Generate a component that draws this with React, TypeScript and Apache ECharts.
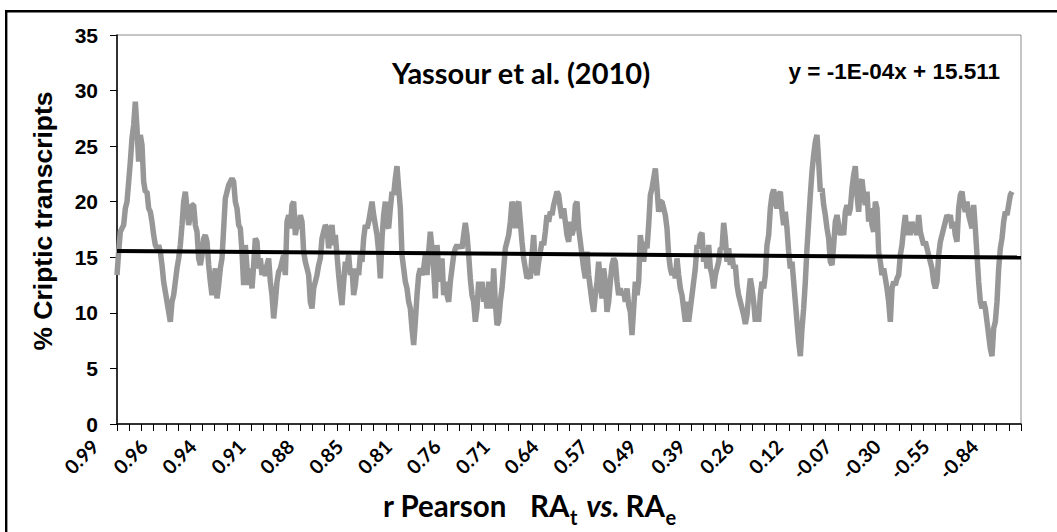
import React, { useEffect, useRef } from 'react';
import * as echarts from 'echarts';

// Tick labels of the category axis (r Pearson RAt vs RAe)
const tickLabels = ['0.99', '0.96', '0.94', '0.91', '0.88', '0.85', '0.81', '0.76', '0.71', '0.64', '0.57', '0.49', '0.39', '0.26', '0.12', '-0.07', '-0.30', '-0.55', '-0.84'];

// % cryptic transcripts (moving average), left to right
const seg1 = [
  13.4, 15.5, 17.3, 17.6, 17.9, 19.4, 20.0, 21.8, 23.6,
  25.7, 26.9, 29.0, 26.6, 23.6, 26.0, 25.1, 21.8, 20.9, 20.9,
  19.4, 19.1, 18.2, 17.0, 16.1, 15.8, 16.1, 15.5, 14.3, 12.8,
  11.9, 11.0, 10.1, 9.2, 11.0, 11.6, 12.8, 14.0, 14.9, 16.1,
  17.9, 20.0, 20.9, 19.4, 17.9, 18.8, 19.7, 19.7, 17.9, 17.3,
  14.9, 14.3, 15.2, 16.7, 17.0, 16.4, 14.3, 12.8, 11.6, 12.8,
  14.0, 11.3, 12.5, 14.0, 14.9, 17.6, 20.3, 20.9, 21.5, 21.8,
  22.1, 21.8, 20.0, 19.4, 17.9, 17.6, 15.5, 12.5, 16.1, 14.0,
  12.5, 14.0, 12.2, 14.3, 16.7, 16.4, 14.0, 14.9, 13.4, 14.3,
  13.3, 14.3, 14.9, 12.8, 11.6, 9.5, 11.0, 12.8, 13.7, 14.0,
  14.6, 15.2, 13.4, 18.2, 18.8, 17.6, 19.7, 20.0, 17.0, 17.9,
  17.6, 18.8, 18.2, 15.5, 14.6, 14.0, 13.4, 11.0, 10.4, 12.2,
  12.8, 13.4, 14.3, 14.9, 16.7, 17.3, 17.9, 17.6, 15.8, 17.0,
  17.9, 16.1, 17.0, 15.2, 13.4, 11.9, 10.7,
];
const seg2 = [
  12.8, 14.6, 14.0, 15.2, 13.4, 14.0, 11.6, 12.5, 14.0, 13.4,
  15.2, 14.6, 16.7, 17.9, 17.6, 18.2, 19.1, 20.0, 18.8, 17.9,
  17.0, 15.5, 13.1, 16.7, 18.8, 20.0, 17.9, 17.6, 19.4, 20.9,
  20.6, 22.1, 23.2, 21.2, 19.4, 15.2, 14.0, 12.8, 12.2, 11.0,
  10.4, 8.6, 7.1, 9.2, 11.6, 13.4, 14.0, 13.4, 14.0, 15.2,
  13.4, 15.5, 17.3, 15.8, 14.0, 11.3, 16.1, 14.0, 12.8, 14.9,
  11.6, 12.8, 11.6, 11.0, 12.8, 14.0, 15.2, 15.8, 16.1, 15.8,
  16.1, 15.8, 17.0, 18.1, 17.0, 15.2, 13.1, 11.6, 11.0, 9.2,
  10.4, 12.8, 11.6, 12.8, 11.0, 12.2, 10.4, 12.8, 11.6, 10.4,
  14.0, 11.0, 8.9, 9.2, 11.0, 12.2, 14.0, 15.8, 16.4, 17.0,
  18.2, 20.0, 19.4, 17.6, 19.7, 20.0, 18.2, 16.4, 14.9, 14.0,
  13.1, 13.4, 13.1, 15.2, 17.0, 14.0, 13.4, 14.6, 15.5, 16.4,
  16.1, 17.3, 18.8, 18.2, 19.1, 18.8, 19.7, 20.3, 20.9, 20.6,
  19.4, 18.5, 19.4, 18.2, 17.0, 16.4, 18.2,
];
const seg3 = [
  17.0, 17.6, 19.7, 20.0, 17.6, 16.4, 15.2, 14.0, 13.1, 15.5,
  13.4, 12.2, 11.0, 10.1, 11.6, 12.8, 14.6, 12.8, 11.3, 14.0,
  12.8, 10.1, 11.0, 12.8, 14.3, 14.9, 14.6, 12.8, 11.6, 12.2,
  11.6, 11.9, 11.0, 12.2, 10.7, 10.1, 8.0, 10.4, 12.8, 11.6,
  12.8, 17.0, 15.8, 14.6, 16.4, 15.8, 17.9, 20.6, 21.2, 22.1,
  23.0, 21.2, 19.1, 20.0, 20.0, 19.4, 18.8, 17.6, 15.2, 14.0,
  13.4, 14.0, 13.1, 14.9, 13.4, 12.2, 11.6, 10.4, 9.2, 11.0,
  9.2, 10.4, 11.6, 12.8, 14.0, 16.1, 15.8, 17.0, 17.2, 14.6,
  15.8, 14.0, 16.1, 14.0, 13.4, 12.2, 13.4, 14.0, 14.6, 15.8,
  15.8, 18.1, 16.7, 14.6, 15.8, 14.3, 15.2, 14.0, 14.3, 12.5,
  11.6, 11.0, 10.4, 9.8, 9.0, 9.8, 11.6, 13.1, 12.2, 11.0,
  9.2, 10.4, 9.2, 11.6, 12.8, 12.2, 13.4, 16.1, 17.0, 19.4,
  20.6, 21.1, 20.0, 19.4, 20.6, 20.9, 19.1, 17.9, 19.1, 17.6,
  15.5, 14.0, 14.6, 12.8, 11.0, 9.2, 7.4,
];
const seg4 = [
  6.1, 8.6, 10.4, 12.8, 15.8, 18.2, 20.6, 22.7, 24.2, 25.4,
  26.0, 23.6, 20.9, 21.2, 19.7, 18.8, 17.6, 16.7, 14.6, 14.3,
  16.1, 18.2, 18.8, 17.9, 17.0, 17.6, 17.0, 19.1, 19.7, 18.8,
  19.4, 21.2, 22.4, 23.2, 20.6, 19.1, 21.7, 22.0, 20.6, 19.7,
  20.9, 18.2, 19.4, 17.9, 17.3, 20.0, 19.4, 15.5, 14.6, 13.4,
  14.0, 13.1, 12.2, 11.0, 9.2, 12.2, 12.8, 12.5, 13.1, 13.4,
  15.2, 16.1, 17.6, 18.8, 17.0, 18.2, 17.0, 18.2, 17.3, 17.6,
  17.0, 18.8, 17.3, 16.7, 16.1, 16.4, 15.8, 15.2, 14.6, 14.0,
  12.8, 12.2, 12.8, 15.2, 16.4, 17.0, 17.6, 18.2, 18.8, 18.5,
  18.8, 17.6, 18.2, 17.0, 16.4, 19.4, 20.6, 20.9, 19.7, 19.1,
  20.0, 18.8, 18.2, 17.6, 19.7, 17.6, 15.2, 12.8, 11.0, 10.4,
  11.0, 10.4, 9.2, 8.0, 6.8, 6.1, 8.6, 9.2, 11.0, 14.0,
  15.8, 16.7, 18.2, 19.1, 18.8, 19.7, 20.6, 20.9,
];
const crypticPct = [...seg1, ...seg2, ...seg3, ...seg4];

// Linear trend (y = -1E-04x + 15.511): values at the left and right plot edges
const trendEnds = [15.57, 14.97];

const X_MAX = 542.4;       // extent of the x axis in sample steps
const TICK_DIVS = 74;      // number of tick intervals on the x axis
const LABEL_EVERY = 4;     // one label every 4 ticks

export default function App() {
  const ref = useRef<HTMLDivElement>(null);

  useEffect(() => {
    if (!ref.current) return;
    const chart = echarts.init(ref.current, undefined, { renderer: 'svg' });
    const tickStep = X_MAX / TICK_DIVS;
    const labelStep = tickStep * LABEL_EVERY;
    const calibri = 'Lato';
    const arial = 'Liberation Sans';

    const ctx = document.createElement('canvas').getContext('2d')!;
    const measure = (t: string, size: number, italic = false) => {
      ctx.font = `${italic ? 'italic ' : ''}bold ${size}px ${calibri}`;
      return ctx.measureText(t).width;
    };

    const txt = (text: string, x: number, y: number, size: number, extra: any = {}) => ({
      type: 'text', x, y, z: 10,
      style: { text, fontFamily: calibri, fontWeight: 'bold', fontSize: size, fill: '#000', align: 'left', verticalAlign: 'middle', ...extra },
    });

    // x-axis title: "r Pearson  RA(t) vs. RA(e)"
    const MAIN = 29.5, SUB = 20, yMain = 505.5, ySub = 517;
    const titleParts: any[] = [];
    let cx = 383;
    titleParts.push(txt('r Pearson', cx, yMain, MAIN)); cx += measure('r Pearson', MAIN) + 23;
    titleParts.push(txt('RA', cx, yMain, MAIN)); cx += measure('RA', MAIN) + 0.5;
    titleParts.push(txt('t', cx, ySub, SUB)); cx += measure('t', SUB) + 9;
    titleParts.push(txt('vs.', cx, yMain, MAIN, { fontStyle: 'italic' })); cx += measure('vs.', MAIN, true) + 6;
    titleParts.push(txt('RA', cx, yMain, MAIN)); cx += measure('RA', MAIN) + 0.5;
    titleParts.push(txt('e', cx, ySub, SUB));

    const option: any = {
      animation: false,
      backgroundColor: '#ffffff',
      grid: [
        { left: 117, top: 35, width: 904, height: 389, show: true, borderColor: '#8a8a8a', borderWidth: 1, backgroundColor: '#fff' },
        { left: 95, top: 35, width: 904, height: 389, show: false },
      ],
      xAxis: [
        {
          gridIndex: 0, type: 'value', min: 0, max: X_MAX, interval: tickStep,
          axisLine: { show: true, lineStyle: { color: '#000', width: 1.5 } },
          axisTick: { show: true, length: 7, lineStyle: { color: '#000', width: 1 } },
          axisLabel: { show: false },
          splitLine: { show: false },
        },
        {
          gridIndex: 1, type: 'value', min: 0, max: X_MAX, interval: labelStep,
          axisLine: { show: false }, axisTick: { show: false }, splitLine: { show: false },
          axisLabel: {
            show: true, rotate: 45, margin: 19, showMinLabel: true, showMaxLabel: true,
            fontFamily: calibri, fontWeight: 'bold', fontSize: 19.5, color: '#000',
            formatter: (v: number) => {
              const k = v / labelStep;
              const r = Math.round(k);
              return Math.abs(k - r) < 1e-3 && r < tickLabels.length ? tickLabels[r] : '';
            },
          },
        },
      ],
      yAxis: [
        {
          gridIndex: 0, type: 'value', min: 0, max: 35, interval: 5,
          axisLine: { show: true, lineStyle: { color: '#000', width: 1.5 } },
          axisTick: { show: true, length: 7, lineStyle: { color: '#000', width: 1 } },
          axisLabel: { margin: 19, fontFamily: arial, fontWeight: 'bold', fontSize: 21, color: '#000' },
          splitLine: { show: false },
        },
        { gridIndex: 1, type: 'value', min: 0, max: 35, show: false },
      ],
      series: [
        {
          type: 'line', xAxisIndex: 0, yAxisIndex: 0,
          data: crypticPct.map((v, i) => [i, v]),
          showSymbol: false, symbol: 'none',
          lineStyle: { color: '#979797', width: 5.5 },
          z: 2,
        },
        {
          type: 'line', xAxisIndex: 0, yAxisIndex: 0,
          data: [[0, trendEnds[0]], [X_MAX, trendEnds[1]]],
          showSymbol: false, symbol: 'none',
          lineStyle: { color: '#000', width: 4 },
          z: 3,
        },
      ],
      graphic: [
        { type: 'line', shape: { x1: 6.2, y1: 10, x2: 6.2, y2: 532 }, style: { stroke: '#000', lineWidth: 2.4 } },
        { type: 'line', shape: { x1: 5, y1: 11.2, x2: 1057, y2: 11.2 }, style: { stroke: '#000', lineWidth: 2.4 } },
        txt('Yassour et al. (2010)', 521, 72, 29, { align: 'center' }),
        {
          type: 'text', x: 1000, y: 71, z: 10,
          style: { text: 'y = -1E-04x + 15.511', fontFamily: arial, fontWeight: 'bold', fontSize: 22.5, fill: '#000', align: 'right', verticalAlign: 'middle' },
        },
        {
          type: 'text', x: 43, y: 221, rotation: Math.PI / 2, z: 10,
          style: { text: '% Criptic transcripts', fontFamily: arial, fontWeight: 'bold', fontSize: 26.5, fill: '#000', align: 'center', verticalAlign: 'middle' },
        },
        ...titleParts,
      ],
    };
    chart.setOption(option);
    return () => chart.dispose();
  }, []);

  return <div ref={ref} style={{ position: 'absolute', left: 0, top: 0, width: 1057, height: 532, background: '#fff' }} />;
}
